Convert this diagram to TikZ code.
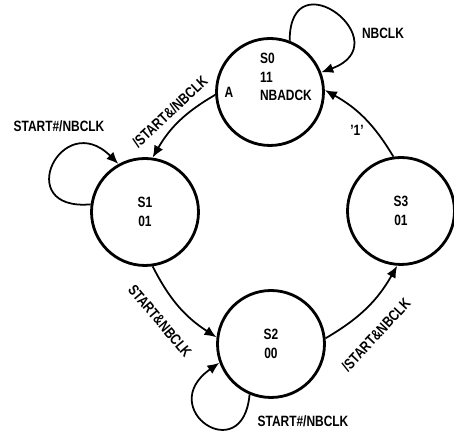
\documentclass[tikz,border=0pt]{standalone}
\usepackage{fontspec}
\setmainfont{Liberation Sans}[FakeStretch=0.8]
\usetikzlibrary{arrows.meta}
\begin{document}
\begin{tikzpicture}[x=0.02cm,y=0.02cm,>={Latex[length=2.4mm,width=2mm]},
  state/.style={draw,circle,line width=1.6pt,minimum size=2.14cm,inner sep=0pt,align=center},
  trans/.style={->,line width=1pt},
  every node/.style={font=\bfseries\fontsize{8.5}{10.4}\selectfont}]
  \useasboundingbox (0,0) rectangle (454,432);
  \node[state] (S0) at (270,340) {};
  \node[align=left] (T0) at (286,355) {S0\\11\\NBADCK};
  \node (A) at (229,340) {A};
  \node[state] (S1) at (145,220) {S1\\01};
  \node[state] (S2) at (271,88) {S2\\00};
  \node[state] (S3) at (401,221) {S3\\01};
  \draw[trans] (S0.183) to[bend right=15] (S1.82);
  \draw[trans] (S1.278) to[bend right=15] (S2.173);
  \draw[trans] (S2.6) to[bend right=15] (S3.266);
  \draw[trans] (S3.98) to[bend right=15] (S0.2);
  \node[rotate=43] (L01) at (170,320) {/START\&/NBCLK};
  \node[rotate=-50] (L12) at (160,111) {START\&NBCLK};
  \node[rotate=47] (L23) at (376,97) {/START\&NBCLK};
  \node (L30) at (357,302) {'1'};
  % boucles
  \draw[trans] (S0.69) .. controls +(90:85) and +(20:85) .. (S0.21);
  \draw[trans] (S1.172) .. controls +(185:80) and +(135:80) .. (S1.119);
  \draw[trans] (S2.247) .. controls +(265:75) and +(215:80) .. (S2.200);
  \node (L00) at (383,399) {NBCLK};
  \node (L11) at (59,306) {START\#/NBCLK};
  \node (L22) at (303,11) {START\#/NBCLK};
\end{tikzpicture}
\end{document}
